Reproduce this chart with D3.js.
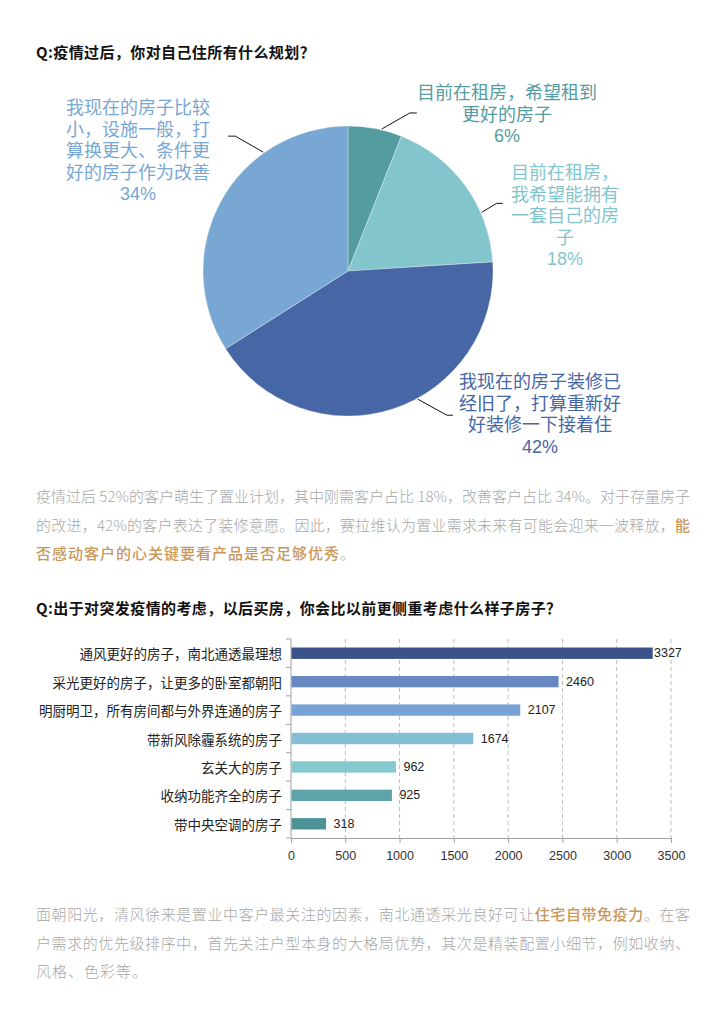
<!DOCTYPE html>
<html>
<head>
<meta charset="utf-8">
<script src="https://cdn.jsdelivr.net/npm/d3@7"></script>
<style>
  body { margin: 0; background: #fff; }
  svg { display: block; }
  text { font-family: "Noto Sans CJK SC", "Noto Sans", sans-serif; }
  text.pielabel { font-family: "Liberation Sans", "Noto Sans CJK SC", sans-serif; }
</style>
</head>
<body>
<svg id="page" width="724" height="1024"></svg>
<script>
// ---- data ----
var pieValues = [6, 18, 42, 34];
var pieLabels = [
  ["目前在租房，希望租到", "更好的房子"],
  ["目前在租房，", "我希望能拥有", "一套自己的房", "子"],
  ["我现在的房子装修已", "经旧了，打算重新好", "好装修一下接着住"],
  ["我现在的房子比较", "小，设施一般，打", "算换更大、条件更", "好的房子作为改善"]
];
var pieColors = ["#559ca1", "#83c5cc", "#4766a5", "#79a7d3"];

var barCategories = [
  "通风更好的房子，南北通透最理想",
  "采光更好的房子，让更多的卧室都朝阳",
  "明厨明卫，所有房间都与外界连通的房子",
  "带新风除霾系统的房子",
  "玄关大的房子",
  "收纳功能齐全的房子",
  "带中央空调的房子"
];
var barValues = [3327, 2460, 2107, 1674, 962, 925, 318];
var barColors = ["#3b5189", "#6788c0", "#78a3d4", "#82bfd4", "#85c8cd", "#5da3a9", "#4e9298"];
var xTicks = [0, 500, 1000, 1500, 2000, 2500, 3000, 3500];

var title1 = "Q:疫情过后，你对自己住所有什么规划？";
var title2 = "Q:出于对突发疫情的考虑，以后买房，你会比以前更侧重考虑什么样子房子？";

// paragraph lines: [text, highlighted?]
var para1 = [
  [["疫情过后 52%的客户萌生了置业计划，其中刚需客户占比 18%，改善客户占比 34%。对于存量房子", false]],
  [["的改进，42%的客户表达了装修意愿。因此，赛拉维认为置业需求未来有可能会迎来一波释放，", false], ["能", true]],
  [["否感动客户的心关键要看产品是否足够优秀", true], ["。", false]]
];
var para2 = [
  [["面朝阳光，清风徐来是置业中客户最关注的因素，南北通透采光良好可让", false], ["住宅自带免疫力", true], ["。在客", false]],
  [["户需求的优先级排序中，首先关注户型本身的大格局优势，其次是精装配置小细节，例如收纳、", false]],
  [["风格、色彩等。", false]]
];

var svg = d3.select("#page");

// ---- titles ----
function title(txt, y) {
  svg.append("text")
    .attr("x", 36).attr("y", y)
    .attr("dominant-baseline", "central")
    .style("font-size", "15px").style("font-weight", "bold").style("fill", "#111")
    .style("letter-spacing", "0.4px")
    .text(txt);
}
title(title1, 51);
title(title2, 607);

// ---- paragraphs ----
function paragraph(lines, y0) {
  lines.forEach(function (line, i) {
    var t = svg.append("text")
      .attr("x", 36).attr("y", y0 + i * 28.5)
      .attr("dominant-baseline", "central")
      .style("font-size", "15px");
    if (i < lines.length - 1) {
      t.attr("textLength", 654).attr("lengthAdjust", "spacing");
    } else {
      t.style("letter-spacing", "1px");
    }
    line.forEach(function (seg) {
      t.append("tspan")
        .style("fill", seg[1] ? "#c9975a" : "#a8a8a8")
        .style("font-weight", seg[1] ? 500 : 300)
        .text(seg[0]);
    });
  });
}
paragraph(para1, 495);
paragraph(para2, 913);

// ---- pie ----
var cx = 348, cy = 271, r = 145;
var pie = d3.pie().sort(null).value(function (d) { return d; });
var arc = d3.arc().innerRadius(0).outerRadius(r);
var arcs = pie(pieValues);

var gPie = svg.append("g").attr("transform", "translate(" + cx + "," + cy + ")");
gPie.selectAll("path")
  .data(arcs)
  .join("path")
  .attr("d", arc)
  .attr("fill", function (d, i) { return pieColors[i]; })
  .attr("stroke", "rgba(255,255,255,0.5)")
  .attr("stroke-width", 0.6);

// label layout: where along the slice the leader starts, elbow offset, label centre
var leaderFrac = [0.62, 0.69, 0.43, 0.71];
var elbow = [[28, -16], [15, -9], [29, 16], [-28, -16]];
var tail = [7, 6, 6, -7];
var labelPos = [[507, 93], [565, 173], [540, 382], [138, 108]];
var lineH = 21.5;

arcs.forEach(function (d, i) {
  var a = d.startAngle + (d.endAngle - d.startAngle) * leaderFrac[i];
  var x0 = cx + (r + 1) * Math.sin(a), y0 = cy - (r + 1) * Math.cos(a);
  var x1 = x0 + elbow[i][0], y1 = y0 + elbow[i][1];
  svg.append("path")
    .attr("d", d3.line()([[x0, y0], [x1, y1], [x1 + tail[i], y1]]))
    .attr("fill", "none").attr("stroke", "#111").attr("stroke-width", 1);

  var lines = pieLabels[i].concat([d3.format(".0%")(d.value / 100)]);
  var t = svg.append("text")
    .attr("class", "pielabel")
    .attr("x", labelPos[i][0])
    .attr("y", labelPos[i][1])
    .attr("text-anchor", "middle")
    .attr("dominant-baseline", "central")
    .style("font-size", "18px")
    .style("fill", pieColors[i]);
  t.selectAll("tspan")
    .data(lines)
    .join("tspan")
    .attr("x", labelPos[i][0])
    .attr("y", function (l, j) { return labelPos[i][1] + j * lineH; })
    .text(function (l) { return l; });
});

// ---- bar chart ----
var x = d3.scaleLinear().domain([0, 3500]).range([291, 671]);
var y = d3.scaleBand().domain(barCategories).range([639, 838]).paddingInner(0.6).paddingOuter(0.3);
var gBar = svg.append("g");

// dashed grid
gBar.selectAll("line.grid")
  .data(xTicks.slice(1))
  .join("line")
  .attr("class", "grid")
  .attr("x1", function (d) { return x(d); }).attr("x2", function (d) { return x(d); })
  .attr("y1", 639).attr("y2", 838)
  .attr("stroke", "#bdbdbd").attr("stroke-dasharray", "4,3");

// x axis
var xAxis = gBar.append("g")
  .attr("transform", "translate(0,838)")
  .call(d3.axisBottom(x).tickValues(xTicks).tickFormat(d3.format("d"))
    .tickSize(5).tickPadding(8).tickSizeOuter(0));
xAxis.select(".domain").attr("stroke", "#a0a0a0");
xAxis.selectAll(".tick line").attr("stroke", "#a0a0a0");
xAxis.selectAll(".tick text")
  .style("font-family", "'Liberation Sans', Arial, sans-serif")
  .style("font-size", "12.5px").style("fill", "#333");

// y axis with ticks between categories
gBar.append("line")
  .attr("x1", 291).attr("x2", 291).attr("y1", 639).attr("y2", 838)
  .attr("stroke", "#a0a0a0");
gBar.selectAll("line.ytick")
  .data(d3.range(barCategories.length + 1))
  .join("line")
  .attr("class", "ytick")
  .attr("x1", 286).attr("x2", 291)
  .attr("y1", function (i) { return 639 + i * y.step(); })
  .attr("y2", function (i) { return 639 + i * y.step(); })
  .attr("stroke", "#a0a0a0");

// bars
gBar.selectAll("rect")
  .data(barValues)
  .join("rect")
  .attr("x", x(0) + 0.5)
  .attr("y", function (d, i) { return y(barCategories[i]); })
  .attr("width", function (d) { return x(d) - x(0); })
  .attr("height", y.bandwidth())
  .attr("fill", function (d, i) { return barColors[i]; });

// category labels
gBar.selectAll("text.cat")
  .data(barCategories)
  .join("text")
  .attr("class", "cat")
  .attr("x", 282)
  .attr("y", function (d) { return y(d) + y.bandwidth() / 2; })
  .attr("text-anchor", "end")
  .attr("dominant-baseline", "central")
  .style("font-size", "13.5px").style("fill", "#222")
  .text(function (d) { return d; });

// value labels
gBar.selectAll("text.val")
  .data(barValues)
  .join("text")
  .attr("class", "val")
  .attr("x", function (d) { return Math.min(x(d) + 8, x(3500) - 17); })
  .attr("y", function (d, i) { return y(barCategories[i]) + y.bandwidth() / 2; })
  .attr("dominant-baseline", "central")
  .style("font-family", "'Liberation Sans', Arial, sans-serif")
  .style("font-size", "12.5px").style("fill", "#222")
  .text(function (d) { return d; });
</script>
</body>
</html>
